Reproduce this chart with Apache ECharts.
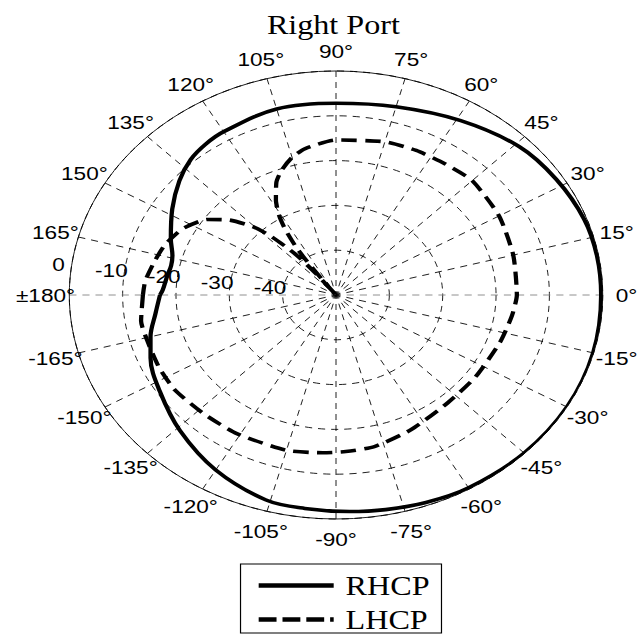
<!DOCTYPE html>
<html><head><meta charset="utf-8">
<script src="https://cdn.jsdelivr.net/npm/echarts@6/dist/echarts.min.js"></script>
<style>
html,body{margin:0;padding:0;background:#fff;overflow:hidden}
#wrap{position:relative;width:637px;height:634px;overflow:hidden;background:#fff}
#chart{position:absolute;left:0;top:0;width:535px;height:634px;transform:scaleX(1.1907);transform-origin:0 0}
</style></head>
<body><div id="wrap"><div id="chart"></div></div>
<script>
// ---- data (angle in degrees, gain in dB) ----
const RHCP_ANGLES = [-180,-173,-165,-158,-147,-134,-120,-106,-97,-87,-79,-70,-60,-45,-30,-15,0,10,20,32,44,59,75,90,105,120,126,132,139,148,158,164,168,172,178,180];
const RHCP_DB     = [-17,-15.9,-14,-12.5,-10.6,-7.9,-4.9,-2.4,-2.0,-1.6,-1.2,-0.7,-0.3,-0.1,0,-0.1,-0.3,-0.3,-0.5,-1.3,-2.3,-4.6,-6.5,-7.2,-7.0,-7.9,-8.4,-9.3,-11.1,-13.8,-16.6,-18.1,-18.4,-18.1,-17.5,-17];
const LHCP_ANGLES = [-180,-171,-163,-154,-145,-133,-121,-105,-94,-87,-78,-65,-49,-35,-19,-8,0,15,30,45,55,65,75,90,100,105,110,114,118,121,123,125,126,127,127.6,128.2,129.5,131,133,135.5,140,145,153,161,168,175,180];
const LHCP_DB     = [-13.8,-13.0,-13.2,-13.1,-13.1,-13.7,-13.9,-14.1,-14.7,-15.0,-15.4,-16.8,-18.1,-18.1,-17.5,-16.7,-16.1,-15.6,-14.7,-13.9,-14.3,-14.4,-14.6,-15.4,-16.8,-18.2,-20.3,-22.5,-26,-29.3,-32.5,-37,-41,-46,-50,-44,-39,-36,-32,-28.3,-24,-20.6,-17.6,-16,-15.1,-14.1,-13.8];
const ANGLE_TICKS  = [0,15,30,45,60,75,90,105,120,135,150,165,180,195,210,225,240,255,270,285,300,315,330,345];
const ANGLE_LABELS = ['0°','15°','30°','45°','60°','75°','90°','105°','120°','135°','150°','165°','±180°','-165°','-150°','-135°','-120°','-105°','-90°','-75°','-60°','-45°','-30°','-15°'];
const RADIUS_TICKS  = [-40,-30,-20,-10,0];
const RADIUS_LABELS = ['-40','-30','-20','-10','0'];
const TITLE = 'Right Port';
const SERIES_NAMES = ['RHCP','LHCP'];

// ---- layout constants ----
const CX = 282.2, CY = 295, R = 224;
const ANGLE_LABEL_GAP = 20;          // px outside the outer ring (label centres)
const RADIUS_LABEL_ANGLE = 172.5;    // direction of ring labels

function toPolar(angles, dbs){
  return angles.map((a,i)=>[dbs[i], a < 0 ? a + 360 : a]);
}
const spokeColors = ANGLE_TICKS.map(t => (t % 180 === 0) ? '#808080' : '#000');
const labelFont = {color:'#000',fontFamily:'Liberation Sans',fontSize:19,textBorderWidth:0,opacity:1};

const angleLabelData = ANGLE_TICKS.map(t=>{
  const rad = t*Math.PI/180;
  return {value:[0,t],label:{offset:[ANGLE_LABEL_GAP*Math.cos(rad),-ANGLE_LABEL_GAP*Math.sin(rad)]}};
});

const chart = echarts.init(document.getElementById('chart'), null, {renderer:'svg'});
chart.setOption({
  backgroundColor:'#fff',
  animation:false,
  title:{text:TITLE,left:280,textAlign:'center',top:11,padding:0,
    textStyle:{fontFamily:'Liberation Serif',fontSize:27,fontWeight:'normal',color:'#000'}},
  legend:{data:[{name:SERIES_NAMES[0]},{name:SERIES_NAMES[1],lineStyle:{type:[15,5]}}],
    orient:'vertical',left:202,top:564,
    padding:[8,10,0,13],itemGap:7,itemWidth:63,itemHeight:12,
    borderColor:'#000',borderWidth:1,borderRadius:0,backgroundColor:'#fff',
    itemStyle:{opacity:0},lineStyle:{width:4.5},
    textStyle:{fontFamily:'Liberation Serif',fontSize:27,color:'#000',lineHeight:27,padding:[0,0,0,5]}},
  polar:{center:[CX,CY],radius:R},
  angleAxis:{
    type:'value',min:0,max:360,interval:15,startAngle:0,clockwise:false,
    axisLine:{show:true,lineStyle:{color:'#000',width:0.8}},
    axisTick:{show:false},
    axisLabel:{show:false},
    splitLine:{show:true,lineStyle:{color:spokeColors,width:0.8,type:[6,5]}}
  },
  radiusAxis:{
    type:'value',min:-50,max:0,interval:10,
    axisLine:{show:false},axisTick:{show:false},axisLabel:{show:false},
    splitLine:{show:true,lineStyle:{color:'#000',width:0.8,type:[6,5]}}
  },
  series:[{
    name:SERIES_NAMES[0],type:'line',coordinateSystem:'polar',
    data:toPolar(RHCP_ANGLES,RHCP_DB),symbol:'none',smooth:0.35,
    lineStyle:{color:'#000',width:3.6,type:'solid'},itemStyle:{color:'#000'},z:5
  },{
    name:SERIES_NAMES[1],type:'line',coordinateSystem:'polar',
    data:toPolar(LHCP_ANGLES,LHCP_DB),symbol:'none',smooth:0.2,
    lineStyle:{color:'#000',width:3.6,type:[13,7]},itemStyle:{color:'#000'},z:5
  },{
    name:'angleLabels',type:'scatter',coordinateSystem:'polar',silent:true,
    data:angleLabelData,
    symbolSize:0,itemStyle:{color:'#000',opacity:1},
    label:{show:true,position:'inside',formatter:p=>ANGLE_LABELS[p.dataIndex],...labelFont}
  },{
    name:'radiusLabels',type:'scatter',coordinateSystem:'polar',silent:true,
    data:RADIUS_TICKS.map(v=>[v,RADIUS_LABEL_ANGLE]),
    symbolSize:0,itemStyle:{color:'#000',opacity:1},
    label:{show:true,position:'inside',offset:[-11,-1.5],formatter:p=>RADIUS_LABELS[p.dataIndex],...labelFont}
  }]
});
</script>
</body></html>
